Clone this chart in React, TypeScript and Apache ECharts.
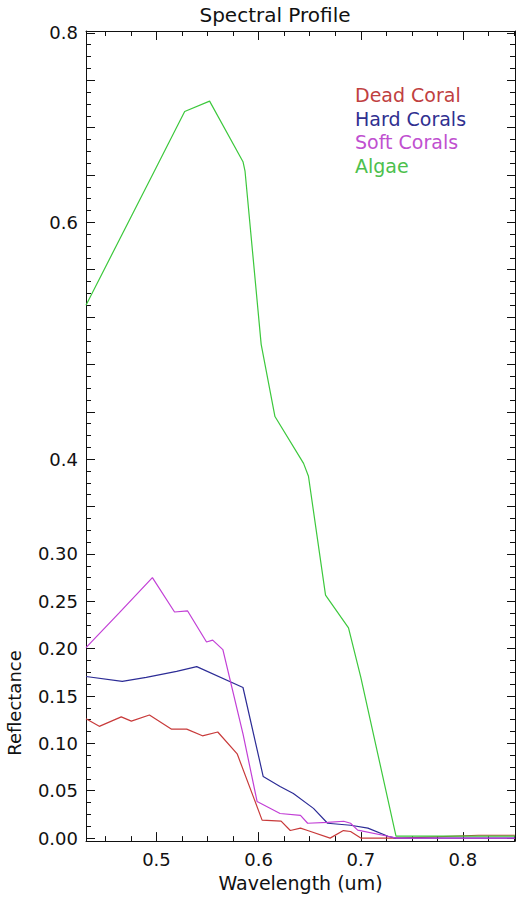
import React, { useEffect, useRef } from "react";
import * as echarts from "echarts";

// ---- Data (wavelength in um, reflectance) ----
const deadCoralWl = [0.431, 0.444, 0.4655, 0.4754, 0.4931, 0.5148, 0.5296, 0.545, 0.56, 0.579, 0.6034, 0.622, 0.631, 0.641, 0.648, 0.67, 0.683, 0.69, 0.7, 0.74, 0.815, 0.851];
const deadCoralRefl = [0.126, 0.118, 0.128, 0.1235, 0.13, 0.115, 0.115, 0.108, 0.112, 0.089, 0.019, 0.018, 0.008, 0.0105, 0.008, 0.0, 0.008, 0.007, 0.0, 0.0, 0.003, 0.003];

const hardCoralsWl = [0.431, 0.4665, 0.49, 0.5197, 0.5394, 0.5847, 0.6045, 0.621, 0.634, 0.6537, 0.6675, 0.69, 0.707, 0.7266, 0.734, 0.851];
const hardCoralsRefl = [0.1706, 0.1654, 0.1696, 0.176, 0.181, 0.159, 0.065, 0.0545, 0.047, 0.0314, 0.0157, 0.0136, 0.0105, 0.002, 0.0, 0.0];

const softCoralsWl = [0.431, 0.4635, 0.496, 0.5177, 0.5305, 0.549, 0.555, 0.565, 0.5847, 0.5985, 0.621, 0.641, 0.648, 0.6675, 0.6833, 0.69, 0.697, 0.7266, 0.735, 0.851];
const softCoralsRefl = [0.201, 0.2377, 0.275, 0.2387, 0.2398, 0.207, 0.209, 0.199, 0.11, 0.0387, 0.026, 0.024, 0.0157, 0.0167, 0.0178, 0.0157, 0.0084, 0.002, 0.0, 0.0];

const algaeWl = [0.431, 0.5, 0.5276, 0.552, 0.5847, 0.5867, 0.6025, 0.616, 0.644, 0.6488, 0.6655, 0.688, 0.7, 0.7345, 0.851];
const algaeRefl = [0.53, 0.6585, 0.717, 0.728, 0.664, 0.654, 0.497, 0.436, 0.3956, 0.382, 0.2565, 0.222, 0.17, 0.002, 0.002];

const seriesNames = ["Dead Coral", "Hard Corals", "Soft Corals", "Algae"];

// ---- Axis definitions ----
const xTickLabels = [0.5, 0.6, 0.7, 0.8];
const xMinorTicks = [0.45, 0.475, 0.525, 0.55, 0.575, 0.625, 0.65, 0.675, 0.725, 0.75, 0.775, 0.825, 0.85];

// The reflectance axis is non-linear: labelled values and their slot on the tick ladder
const yTickLabels = ["0.00", "0.05", "0.10", "0.15", "0.20", "0.25", "0.30", "0.4", "0.6", "0.8"];
const yKnotValues = [0, 0.05, 0.1, 0.15, 0.2, 0.25, 0.3, 0.4, 0.6, 0.8];
const yKnotSteps = [0, 1, 2, 3, 4, 5, 6, 8, 13, 17];

function toAxis(v: number): number {
  if (v <= yKnotValues[0]) return (v - yKnotValues[0]) / 0.05 + yKnotSteps[0];
  for (let i = 1; i < yKnotValues.length; i++) {
    if (v <= yKnotValues[i]) {
      const t = (v - yKnotValues[i - 1]) / (yKnotValues[i] - yKnotValues[i - 1]);
      return yKnotSteps[i - 1] + t * (yKnotSteps[i] - yKnotSteps[i - 1]);
    }
  }
  const n = yKnotValues.length - 1;
  return yKnotSteps[n] + ((v - yKnotValues[n]) / (yKnotValues[n] - yKnotValues[n - 1])) * (yKnotSteps[n] - yKnotSteps[n - 1]);
}

const FONT = "DejaVu Sans";
const INK = "#111111";

export default function App() {
  const ref = useRef<HTMLDivElement>(null);

  useEffect(() => {
    if (!ref.current) return;
    const chart = echarts.init(ref.current, undefined, { renderer: "svg" });

    const X_MIN = 0.431;
    const X_MAX = 0.851;
    const Y_MIN = -0.063;
    const Y_MAX = 17.04;

    const majorSteps: number[] = [];
    for (let i = 0; i <= 17; i++) majorSteps.push(i);
    const minorSteps: number[] = [];
    for (let i = 0; i < 17; i++) for (let k = 1; k < 4; k++) minorSteps.push(i + k / 4);

    const makePairs = (wl: number[], r: number[]) => wl.map((w, i) => [w, toAxis(r[i])]);

    const colors = ["#c83a3a", "#2c2c96", "#c23fd6", "#3cc83c"];
    const legendColors = ["#c04040", "#303090", "#c050d0", "#4cc04c"];
    const datasets = [
      makePairs(deadCoralWl, deadCoralRefl),
      makePairs(hardCoralsWl, hardCoralsRefl),
      makePairs(softCoralsWl, softCoralsRefl),
      makePairs(algaeWl, algaeRefl),
    ];

    const lineStyle = { color: INK, width: 1 };

    const xBase = (position: "bottom" | "top") => ({
      type: "value" as const,
      min: X_MIN,
      max: X_MAX,
      position,
      splitLine: { show: false },
    });
    const yBase = (position: "left" | "right") => ({
      type: "value" as const,
      min: Y_MIN,
      max: Y_MAX,
      position,
      splitLine: { show: false },
    });

    chart.setOption({
      animation: false,
      backgroundColor: "#ffffff",
      textStyle: { fontFamily: FONT },
      title: {
        text: "Spectral Profile",
        left: 275,
        top: 5,
        textAlign: "center",
        padding: 0,
        textStyle: { fontFamily: FONT, fontSize: 20, fontWeight: "normal", color: INK },
      },
      legend: {
        orient: "vertical",
        left: 350,
        top: 85,
        padding: 0,
        itemGap: 3.5,
        itemWidth: 0,
        itemHeight: 0,
        icon: "none",
        selectedMode: false,
        textStyle: { fontFamily: FONT, fontSize: 19, lineHeight: 20 },
        data: seriesNames.map((n, i) => ({ name: n, textStyle: { color: legendColors[i] } })),
      },
      grid: { left: 86, right: 1, top: 31, bottom: 49, containLabel: false },
      xAxis: [
        {
          ...xBase("bottom"),
          axisLine: { show: true, onZero: false, lineStyle },
          axisTick: { show: true, inside: true, length: 9, lineStyle, customValues: xTickLabels },
          axisLabel: {
            show: true,
            margin: 9,
            customValues: xTickLabels,
            formatter: (v: number) => v.toFixed(1),
            color: INK,
            fontFamily: FONT,
            fontSize: 18,
          },
          name: "Wavelength (um)",
          nameLocation: "middle",
          nameGap: 27,
          nameTextStyle: { color: INK, fontFamily: FONT, fontSize: 19 },
        },
        {
          ...xBase("bottom"),
          axisLine: { show: false, onZero: false },
          axisTick: { show: true, inside: true, length: 5, lineStyle, customValues: xMinorTicks },
          axisLabel: { show: false },
        },
        {
          ...xBase("top"),
          axisLine: { show: true, onZero: false, lineStyle },
          axisTick: { show: true, inside: true, length: 9, lineStyle, customValues: xTickLabels },
          axisLabel: { show: false },
        },
        {
          ...xBase("top"),
          axisLine: { show: false, onZero: false },
          axisTick: { show: true, inside: true, length: 5, lineStyle, customValues: xMinorTicks },
          axisLabel: { show: false },
        },
      ],
      yAxis: [
        {
          ...yBase("left"),
          axisLine: { show: true, onZero: false, lineStyle },
          axisTick: { show: true, inside: true, length: 9, lineStyle, customValues: majorSteps },
          axisLabel: {
            show: true,
            margin: 8,
            customValues: yKnotSteps,
            formatter: (v: number) => {
              const i = yKnotSteps.findIndex((s) => Math.abs(s - v) < 1e-6);
              return i >= 0 ? yTickLabels[i] : "";
            },
            color: INK,
            fontFamily: FONT,
            fontSize: 18,
          },
        },
        {
          ...yBase("left"),
          axisLine: { show: false, onZero: false },
          axisTick: { show: true, inside: true, length: 5, lineStyle, customValues: minorSteps },
          axisLabel: { show: false },
        },
        {
          ...yBase("right"),
          axisLine: { show: true, onZero: false, lineStyle },
          axisTick: { show: true, inside: true, length: 8, lineStyle, customValues: majorSteps },
          axisLabel: { show: false },
        },
        {
          ...yBase("right"),
          axisLine: { show: false, onZero: false },
          axisTick: { show: true, inside: true, length: 5, lineStyle, customValues: minorSteps },
          axisLabel: { show: false },
        },
      ],
      graphic: [
        {
          type: "text",
          x: 14,
          y: 703,
          rotation: Math.PI / 2,
          style: {
            text: "Reflectance",
            fill: INK,
            font: `18px "${FONT}"`,
            align: "center",
            verticalAlign: "middle",
            textAlign: "center",
            textVerticalAlign: "middle",
          },
        },
      ],
      series: seriesNames.map((n, i) => ({
        name: n,
        type: "line",
        xAxisIndex: 0,
        yAxisIndex: 0,
        data: datasets[i],
        symbol: "none",
        lineStyle: { color: colors[i], width: 1.2 },
        itemStyle: { color: colors[i] },
        silent: true,
        z: 3 + i,
      })),
    });

    return () => chart.dispose();
  }, []);

  return (
    <div
      ref={ref}
      style={{ position: "fixed", left: 0, top: 0, width: 516, height: 897, background: "#fff" }}
    />
  );
}
